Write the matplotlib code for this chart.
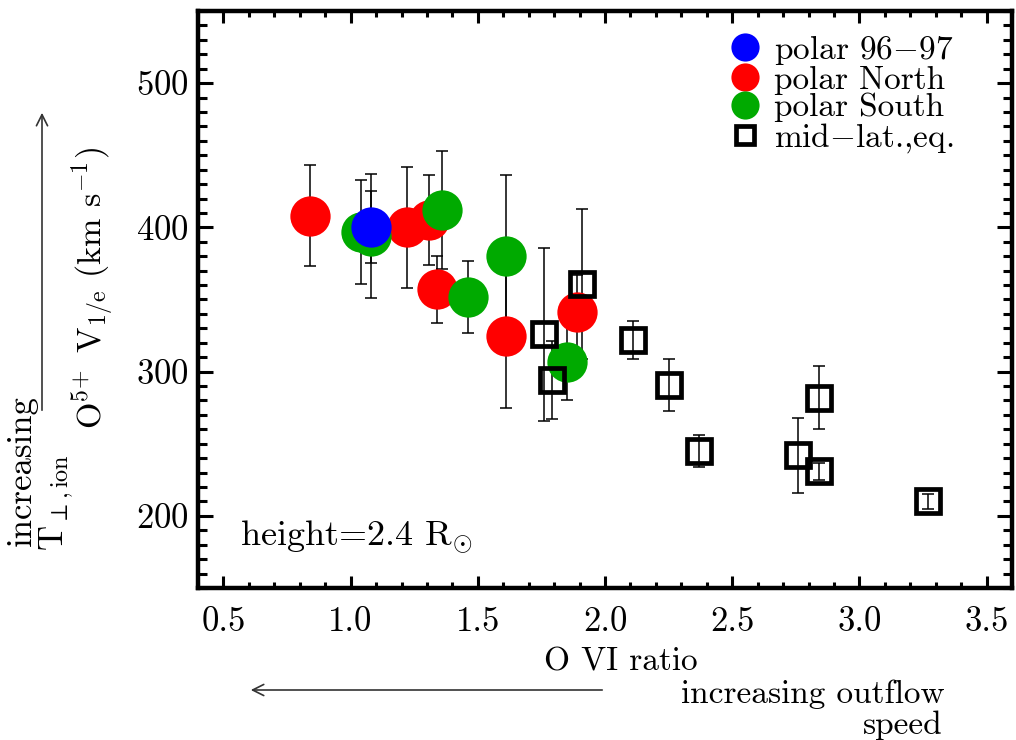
import matplotlib
matplotlib.use("Agg")
import matplotlib.pyplot as plt
from matplotlib.ticker import MultipleLocator, FormatStrFormatter

plt.rcParams['font.family'] = ['cmr10', 'DejaVu Serif']
plt.rcParams['mathtext.fontset'] = 'cm'
plt.rcParams['axes.formatter.use_mathtext'] = True
plt.rcParams['axes.unicode_minus'] = False

# -----------------------------
# Data
# -----------------------------
north_ratio = [0.84, 1.22, 1.31, 1.34, 1.61, 1.89]
north_v = [408, 400, 405, 357, 325, 341]
north_err = [35, 42, 31, 23, 50, 26]

south_ratio = [1.04, 1.08, 1.36, 1.46, 1.61, 1.85]
south_v = [397, 394, 412, 352, 380, 307]
south_err = [36, 43, 41, 25, 56, 27]

polar9697_ratio = [1.08]
polar9697_v = [400]
polar9697_err = [25]

midlat_ratio = [1.76, 1.79, 1.91, 2.11, 2.25, 2.37, 2.76, 2.84, 2.84, 3.27]
midlat_v = [326, 294, 361, 322, 291, 245, 242, 282, 231, 210]
midlat_err = [60, 27, 52, 13, 18, 11, 26, 22, 6, 5]

GREEN = '#00aa00'

fig = plt.figure(figsize=(10.16, 7.40), dpi=100)
ax = fig.add_axes([198/1016, 152/740, 814/1016, 577/740])

# error bars underneath everything
for xs, ys, es in [(north_ratio, north_v, north_err),
                   (south_ratio, south_v, south_err),
                   (polar9697_ratio, polar9697_v, polar9697_err),
                   (midlat_ratio, midlat_v, midlat_err)]:
    ax.errorbar(xs, ys, yerr=es, fmt='none', ecolor='black',
                elinewidth=1.1, capsize=4, capthick=1.1, zorder=1)

h_red, = ax.plot(north_ratio, north_v, 'o', color='red', ms=29, mew=0, zorder=2)
h_green, = ax.plot(south_ratio, south_v, 'o', color=GREEN, ms=29, mew=0, zorder=3)
h_blue, = ax.plot(polar9697_ratio, polar9697_v, 'o', color='blue', ms=29, mew=0, zorder=4)
h_sq, = ax.plot(midlat_ratio, midlat_v, 's', mfc='none', mec='black', ms=17.5, mew=3.4, zorder=5)

ax.set_xlim(0.4, 3.6)
ax.set_ylim(150, 550)
ax.xaxis.set_major_locator(MultipleLocator(0.5))
ax.xaxis.set_minor_locator(MultipleLocator(0.1))
ax.xaxis.set_major_formatter(FormatStrFormatter('%.1f'))
ax.yaxis.set_major_locator(MultipleLocator(100))
ax.yaxis.set_minor_locator(MultipleLocator(10))

for s in ax.spines.values():
    s.set_linewidth(3.2)
ax.tick_params(which='both', direction='in', top=True, right=True, width=2.2,
               labelsize=25)
ax.tick_params(axis='x', which='major', length=8.5, pad=13)
ax.tick_params(axis='x', which='minor', length=4.5)
ax.tick_params(axis='y', which='major', length=11, pad=7)
ax.tick_params(axis='y', which='minor', length=6.5)

ax.set_xlabel('O VI ratio', fontsize=24, va='center')
ax.xaxis.set_label_coords(0.52, -0.128)
ax.set_ylabel(r'O$^{5\!+}$ V$_{\mathrm{1/e}}$ (km s$^{-1}$)', fontsize=24.5,
              va='center', ha='center')
ax.yaxis.set_label_coords(-0.128, 0.52)

ax.text(0.052, 0.0745, r'height=2.4 R$_{\odot}$', transform=ax.transAxes,
        fontsize=26, va='baseline', ha='left')

leg = ax.legend([h_blue, h_red, h_green, h_sq],
                [r'polar 96$-$97', 'polar North', 'polar South', r'mid$-$lat.,eq.'],
                loc='upper left', bbox_to_anchor=(0.652, 0.962), frameon=False,
                fontsize=24, borderpad=0, borderaxespad=0, handlelength=0.95,
                handletextpad=0.4, labelspacing=-0.05, markerscale=0.7)

# side annotations
fig.text(22/1016, 1 - 471/740, 'increasing', rotation=90, fontsize=25,
         ha='center', va='center')
fig.text(57/1016, 1 - 503/740, r'T$_{\perp,\mathrm{ion}}$', rotation=90, fontsize=25,
         ha='center', va='center')
fig.add_artist(matplotlib.patches.FancyArrowPatch(
    (42/1016, 1 - 413/740), (42/1016, 1 - 110/740), transform=fig.transFigure,
    arrowstyle='->,head_length=8,head_width=4', lw=1.2, color='#333333'))

fig.add_artist(matplotlib.patches.FancyArrowPatch(
    (605/1016, 1 - 690/740), (248/1016, 1 - 690/740), transform=fig.transFigure,
    arrowstyle='->,head_length=8,head_width=4', lw=1.2, color='#333333'))
fig.text(945/1016, 1 - 694/740, 'increasing outflow', fontsize=24,
         ha='right', va='center')
fig.text(942/1016, 1 - 725/740, 'speed', fontsize=24, ha='right', va='center')

fig.savefig('out.png', dpi=100)
